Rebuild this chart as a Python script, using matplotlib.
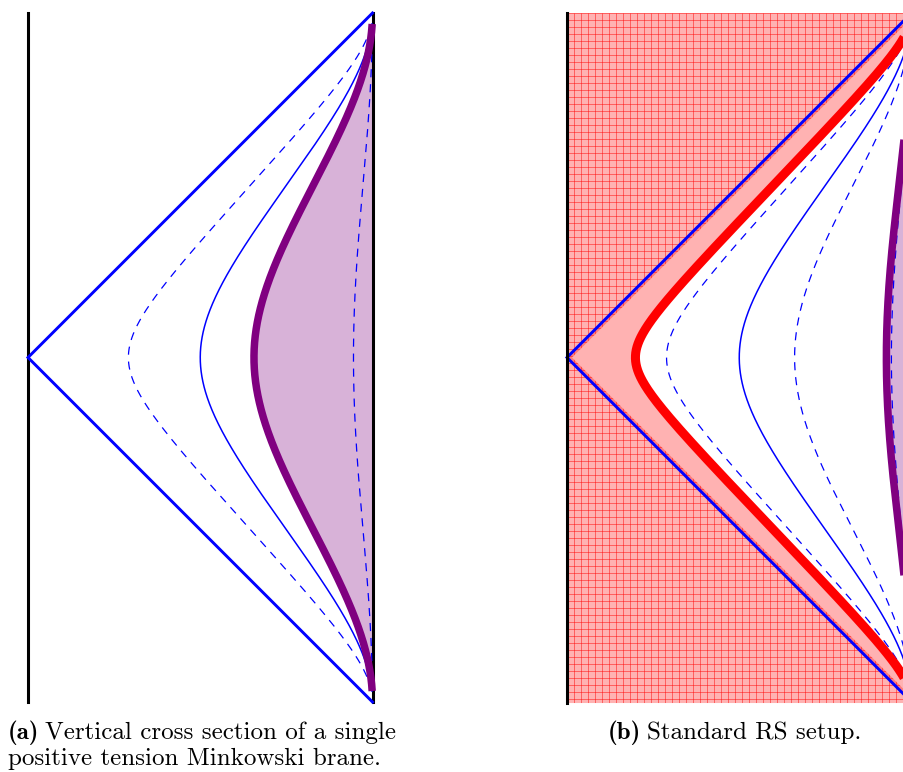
import numpy as np
import matplotlib.pyplot as plt
from matplotlib.patches import Polygon

plt.rcParams['mathtext.fontset'] = 'cm'

# brane positions (Poincare z)
panel_a_dashed = [2.03, 0.087]
panel_a_solid = [1.0]
panel_a_brane = 0.6

panel_b_rs_brane = 3.1
panel_b_dashed = [2.05, 0.59, 0.092]
panel_b_solid = [1.0]
panel_b_brane = 0.115

caption_a = ['(a)', 'Vertical cross section of a single',
             'positive tension Minkowski brane.']
caption_b = ['(b)', 'Standard RS setup.']

PI = np.pi
K = PI / 344.5  # data units per pixel


# constant-z slice of the Poincare patch, drawn in global (sigma, tau)
def slice_curve(z0, tmax=20.0, n=900):
    s = np.linspace(-np.arctan(tmax), np.arctan(tmax), n)
    t = np.tan(s)
    a = np.arctan(t + z0)
    b = np.arctan(t - z0)
    return -(a - b), a + b


def setup_axes(ax, x_bound):
    # x_bound = pixel column of the conformal boundary
    ax.set_xlim((ax_px[ax][0] - x_bound) * K, (ax_px[ax][1] - x_bound) * K)
    ax.set_ylim((357.5 - 772) * K, 357.5 * K)
    ax.axis('off')


def draw_common(ax, dashed, solid):
    for z0 in dashed:
        x, y = slice_curve(z0)
        ax.plot(x, y, color='blue', lw=0.9, dashes=(6.5, 5.5), zorder=4)
    for z0 in solid:
        x, y = slice_curve(z0)
        ax.plot(x, y, color='blue', lw=1.1, zorder=4)
    # Poincare horizon
    ax.plot([0, -PI, 0], [PI, 0, -PI], color='blue', lw=2.1, zorder=6,
            solid_joinstyle='miter')


fig = plt.figure(figsize=(9.04, 7.72), dpi=100)
ax1 = fig.add_axes([0, 0, 0.5, 1])
ax2 = fig.add_axes([0.5, 0, 0.5, 1])
ax_px = {ax1: (0, 452), ax2: (452, 904)}
setup_axes(ax1, 372.5)
setup_axes(ax2, 911.5)

# ---- (a) single brane ----
ax1.plot([-PI, -PI], [-PI, PI], color='black', lw=2.2, zorder=3)
ax1.plot([0, 0], [-PI, PI], color='black', lw=2.2, zorder=3)
bx, by = slice_curve(panel_a_brane)
ax1.fill_betweenx(by, bx, 0, color='purple', alpha=0.3, lw=0, zorder=2)
draw_common(ax1, panel_a_dashed, panel_a_solid)
ax1.plot(bx, by, color='purple', lw=5.4, solid_capstyle='butt', zorder=5)

# ---- (b) RS setup ----
tb = -1.003 * PI
d = 5 * K  # hatched region spills a little past the horizon
region = Polygon([(-PI, tb), (-PI, PI), (0, PI), (0, PI - d), (-PI + d, 0),
                  (0, -PI + d), (0, tb)],
                 closed=True, facecolor='red', alpha=0.3, lw=0, zorder=1)
ax2.add_patch(region)
gx = np.arange(-PI, 0, 7 * K)
gy = np.arange(PI, tb, -7 * K)
vl = ax2.vlines(gx, tb, PI, color='red', alpha=0.55, lw=0.6, zorder=1.5)
hl = ax2.hlines(gy, -PI, 0, color='red', alpha=0.55, lw=0.6, zorder=1.5)
vl.set_clip_path(region)
hl.set_clip_path(region)

rx, ry = slice_curve(panel_b_rs_brane)
ax2.fill_betweenx(ry, -(PI - np.abs(ry)), rx, color='red', alpha=0.3, lw=0, zorder=2)
px_, py_ = slice_curve(panel_b_brane)
ax2.fill_betweenx(py_, px_, 0, color='purple', alpha=0.3, lw=0, zorder=2)
ax2.plot([-PI, -PI], [tb, PI], color='black', lw=2.2, zorder=7)
draw_common(ax2, panel_b_dashed, panel_b_solid)
ax2.plot(rx, ry, color='red', lw=6.5, solid_capstyle='butt', zorder=5)
ax2.plot(px_, py_, color='purple', lw=5.4, solid_capstyle='butt', zorder=5)

# captions: bold label, then regular text right after it
fs = 18
renderer = fig.canvas.get_renderer()


def caption(x_px, y_px, label, text):
    t = fig.text(x_px / 904, 1 - y_px / 772, label, fontsize=fs, family='cmb10',
                 va='baseline')
    w = t.get_window_extent(renderer).width
    fig.text((x_px + w + 6) / 904, 1 - y_px / 772, text, fontsize=fs,
             family='cmr10', va='baseline')


caption(8, 739, caption_a[0], caption_a[1])
fig.text(8 / 904, 1 - 765 / 772, caption_a[2], fontsize=fs, family='cmr10', va='baseline')
caption(608, 739, caption_b[0], caption_b[1])

fig.savefig('out.png', dpi=100)
